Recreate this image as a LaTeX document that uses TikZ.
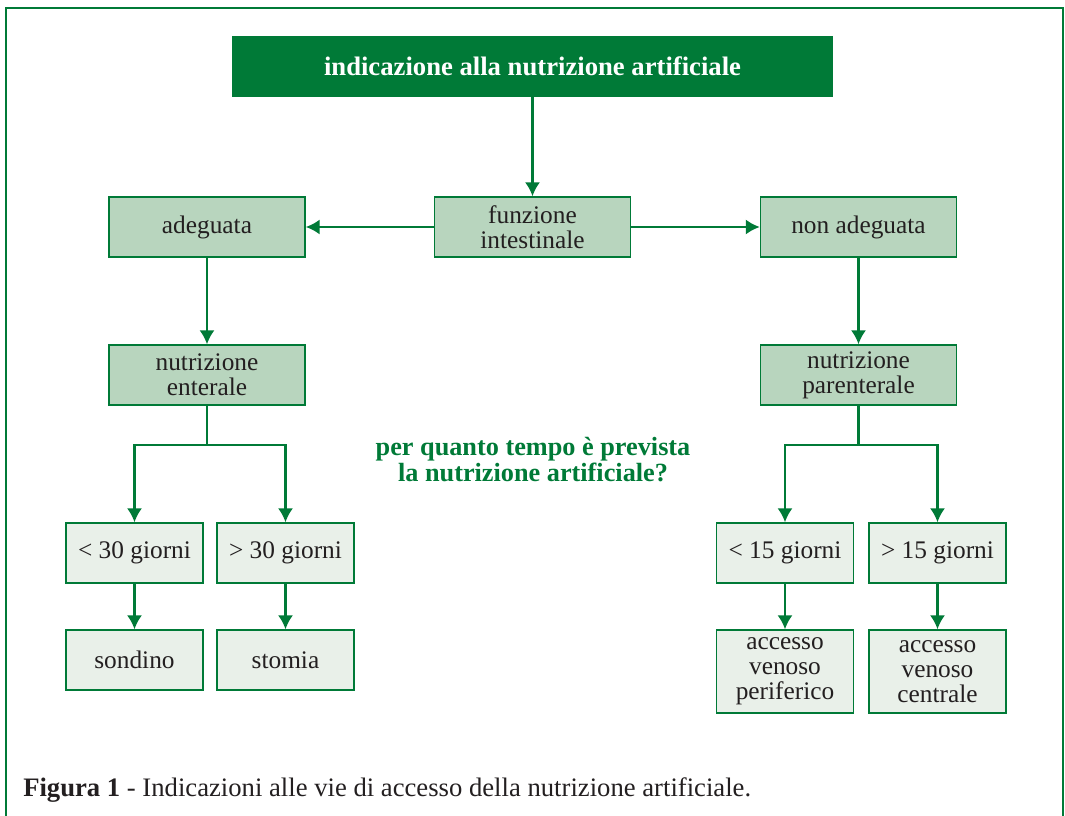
\documentclass[tikz,border=0pt]{standalone}
\usepackage{fontspec}
\setmainfont{Liberation Serif}
\usetikzlibrary{arrows.meta}

\definecolor{nagreen}{RGB}{0,122,55}
\definecolor{nafill}{RGB}{184,213,190}
\definecolor{nalight}{RGB}{233,240,233}
\definecolor{natext}{RGB}{35,31,32}

\begin{document}
\begin{tikzpicture}[x=0.75pt,y=0.75pt,yscale=-1,xscale=1,
  bigbox/.style={draw=nagreen,line width=1.1pt,fill=nafill,text=natext,inner sep=0.75pt,
    minimum width=147pt,minimum height=45pt,align=center,font=\fontsize{19}{18.75}\selectfont},
  smallbox/.style={draw=nagreen,line width=1.1pt,fill=nalight,text=natext,inner sep=0.75pt,
    minimum width=102.5pt,minimum height=45pt,align=center,font=\fontsize{19}{18.75}\selectfont},
  flow/.style={draw=nagreen,line width=1.9pt,-{Latex[length=10.5pt,width=11.5pt]}},
  flowline/.style={draw=nagreen,line width=1.9pt}]
\useasboundingbox (0,0) rectangle (1065,816);

%Frame
\draw [color=nagreen,line width=1.5pt] (6,816) -- (6,8) -- (1063,8) -- (1063,816) ;

% Title
\node (titolo) at (532.5,66.5) [fill=nagreen,text=white,inner sep=0.75pt,minimum width=450.75pt,minimum height=45.75pt,font=\fontsize{20}{22}\selectfont\bfseries] {indicazione alla nutrizione artificiale};

% Level 1
\node (funz) at (532.5,227) [bigbox] {funzione\\intestinale};
\node (adeg) at (207,227) [bigbox] {adeguata};
\node (nonadeg) at (858.5,227) [bigbox] {non adeguata};

% Level 2
\node (enter) at (207,375) [bigbox] {nutrizione\\enterale};
\node (parent) at (858.5,375) [bigbox] {nutrizione\\parenterale};

% Level 3
\node (meno30) at (134.5,553) [smallbox] {< 30 giorni};
\node (piu30) at (285.5,553) [smallbox] {> 30 giorni};
\node (meno15) at (785,553) [smallbox] {< 15 giorni};
\node (piu15) at (937.5,553) [smallbox] {> 15 giorni};

% Level 4
\node (sondino) at (134.5,660) [smallbox] {sondino};
\node (stomia) at (285.5,660) [smallbox] {stomia};
\node (perif) at (785,671.5) [smallbox,minimum height=62.25pt] {accesso\\venoso\\periferico};
\node (centr) at (937.5,671.5) [smallbox,minimum height=62.25pt] {accesso\\venoso\\centrale};

% Question
\node (domanda) at (533,460) [text=nagreen,align=center,inner sep=0.75pt,font=\fontsize{19.7}{19.5}\selectfont\bfseries] {per quanto tempo è prevista\\la nutrizione artificiale?};

% Caption
\node (didascalia) at (22,790) [anchor=west,text=natext,inner sep=0.75pt,font=\fontsize{20}{22}\selectfont] {\textbf{Figura 1} - Indicazioni alle vie di accesso della nutrizione artificiale.};

% Connectors
\coordinate (splitsx) at (207,445);
\coordinate (splitdx) at (858.5,445);
\draw [flow] (titolo) -- (funz);
\draw [flow] (funz) -- (adeg);
\draw [flow] (funz) -- (nonadeg);
\draw [flow] (adeg) -- (enter);
\draw [flow] (nonadeg) -- (parent);
\draw [flowline] (enter) -- (splitsx);
\draw [flow] (splitsx) -| (meno30);
\draw [flow] (splitsx) -| (piu30);
\draw [flowline] (parent) -- (splitdx);
\draw [flow] (splitdx) -| (meno15);
\draw [flow] (splitdx) -| (piu15);
\draw [flow] (meno30) -- (sondino);
\draw [flow] (piu30) -- (stomia);
\draw [flow] (meno15) -- (perif);
\draw [flow] (piu15) -- (centr);

\end{tikzpicture}
\end{document}
